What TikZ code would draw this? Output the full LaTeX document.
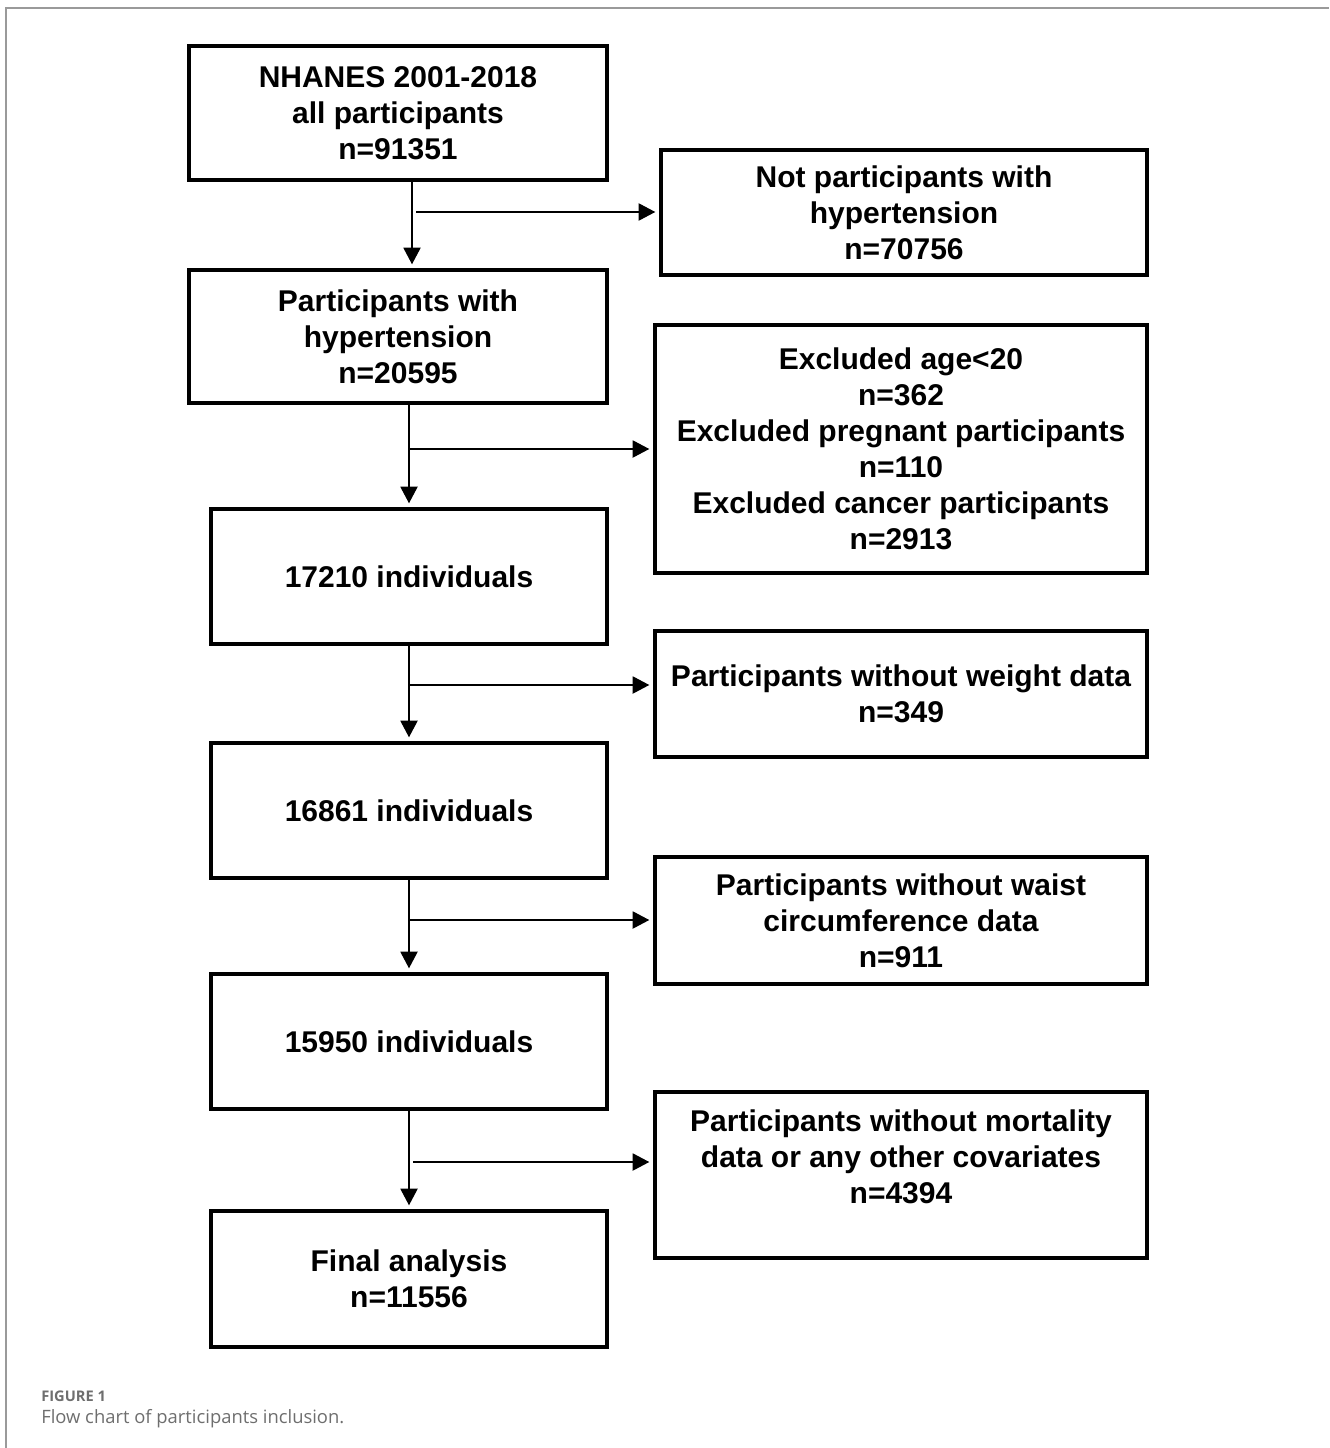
\documentclass[tikz,border=0pt]{standalone}
\usepackage{fontspec}
\setmainfont{Liberation Sans}
\newfontfamily\capfont{Open Sans}
\usetikzlibrary{arrows.meta}
\definecolor{framegray}{HTML}{9A9A9A}
\definecolor{capgray}{HTML}{6E6E6E}
\tikzset{
  stepbox/.style={draw=black, line width=2.4pt, align=center, inner sep=0pt,
    font=\fontsize{22.5}{27}\selectfont\bfseries},
  arr/.style={draw=black, line width=2.2pt, shorten >=3pt, -{Triangle[length=12.5pt,width=12.5pt]}},
  frameline/.style={draw=framegray, line width=1.2pt},
}
\newcommand\mybox[6]{\node[stepbox, minimum width={(#4-#2)*0.75pt}, minimum height={(#5-#3)*0.75pt}] (#1) at ({(#2+#4)/2},{(#3+#5)/2}) {#6};}
\begin{document}
\begin{tikzpicture}[x=0.75pt,y=-0.75pt]
\useasboundingbox (0,0) rectangle (1329,1448);
% frame
\coordinate (fa) at (6,1448);
\coordinate (fb) at (6,8);
\coordinate (fc) at (1329,8);
\draw[frameline] (fa) -- (fb) -- (fc);
% left column
\mybox{b1}{189}{46}{607}{180}{NHANES 2001-2018\\all participants\\n=91351}
\mybox{b2}{189}{270}{607}{403}{Participants with\\hypertension\\n=20595}
\mybox{b3}{211}{509}{607}{644}{17210 individuals}
\mybox{b4}{211}{743}{607}{878}{16861 individuals}
\mybox{b5}{211}{974}{607}{1109}{15950 individuals}
\mybox{b6}{211}{1211}{607}{1347}{Final analysis\\n=11556}
% right column
\mybox{r1}{661}{150}{1147}{275}{Not participants with\\hypertension\\n=70756}
\mybox{r2}{655}{325}{1147}{573}{Excluded age<20\\n=362\\Excluded pregnant participants\\n=110\\Excluded cancer participants\\n=2913}
\mybox{r3}{655}{631}{1147}{757}{Participants without weight data\\n=349}
\mybox{r4}{655}{857}{1147}{984}{Participants without waist\\circumference data\\n=911}
\mybox{r5}{655}{1092}{1147}{1258}{Participants without mortality\\data or any other covariates\\n=4394\\\mbox{}}
% vertical arrows
\coordinate (v1) at (412,0);
\coordinate (v2) at (409,0);
\draw[arr] (b1.south -| v1) -- (b2.north -| v1);
\draw[arr] (b2.south -| v2) -- (b3.north -| v2);
\draw[arr] (b3.south -| v2) -- (b4.north -| v2);
\draw[arr] (b4.south -| v2) -- (b5.north -| v2);
\draw[arr] (b5.south -| v2) -- (b6.north -| v2);
% horizontal arrows
\coordinate (h1) at (416,212);
\coordinate (h2) at (409,449);
\coordinate (h3) at (409,685);
\coordinate (h4) at (409,920);
\coordinate (h5) at (413,1162);
\draw[arr] (h1) -- (h1 -| r1.west);
\draw[arr] (h2) -- (h2 -| r2.west);
\draw[arr] (h3) -- (h3 -| r3.west);
\draw[arr] (h4) -- (h4 -| r4.west);
\draw[arr] (h5) -- (h5 -| r5.west);
% caption
\node[anchor=base west, inner sep=0pt, text=capgray, font=\capfont\fontsize{11}{13}\selectfont\bfseries] (cap1) at (41,1401) {FIGURE 1};
\node[anchor=base west, inner sep=0pt, text=capgray, font=\capfont\fontsize{13.8}{17}\selectfont] (cap2) at (41,1423) {Flow chart of participants inclusion.};
\end{tikzpicture}
\end{document}
